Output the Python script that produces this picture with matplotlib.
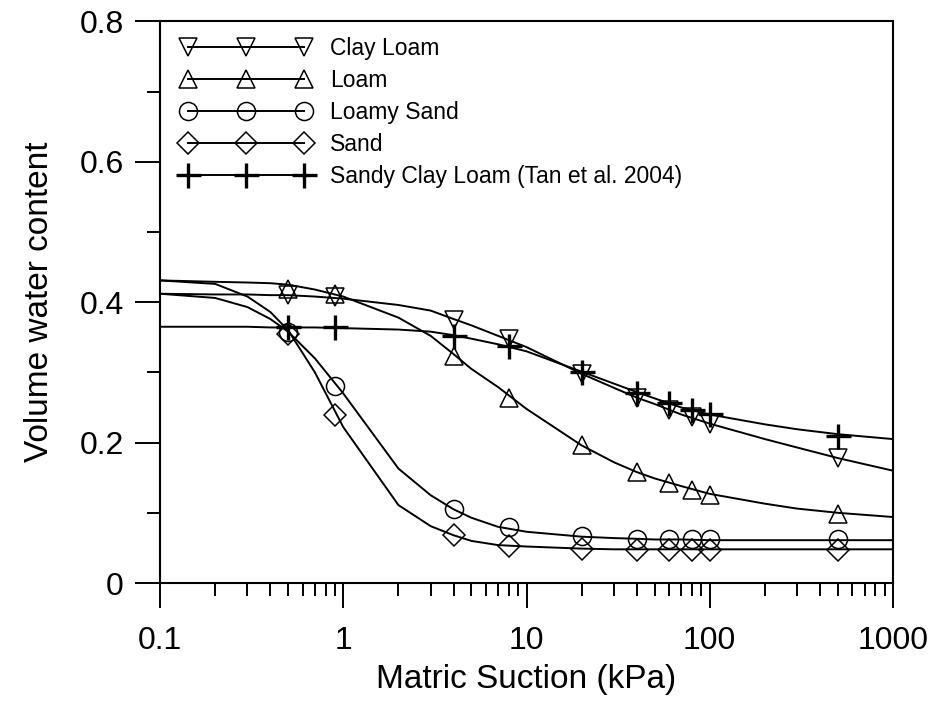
#!/usr/bin/env python3
import matplotlib.pyplot as plt
from matplotlib.ticker import FixedLocator, LogLocator, NullFormatter

plt.rcParams["font.family"] = ["Liberation Sans", "DejaVu Sans"]

# measured points
suction = [0.5, 0.9, 4, 8, 20, 40, 60, 80, 100, 500]
clay_loam = [0.410, 0.407, 0.375, 0.348, 0.298, 0.263, 0.246, 0.236, 0.226, 0.178]
loam = [0.419, 0.411, 0.324, 0.263, 0.196, 0.158, 0.142, 0.132, 0.126, 0.099]
loamy_sand = [0.358, 0.281, 0.105, 0.080, 0.067, 0.0625, 0.0625, 0.0625, 0.0625, 0.0625]
sand = [0.355, 0.239, 0.068, 0.053, 0.048, 0.047, 0.047, 0.047, 0.047, 0.047]
sandy_clay_loam = [0.365, 0.364, 0.352, 0.337, 0.301, 0.270, 0.256, 0.246, 0.241, 0.210]

curve_x = [0.1, 0.2, 0.3, 0.4, 0.5, 0.7, 1, 2, 3, 4, 5, 7, 10,
           20, 30, 40, 50, 70, 100, 200, 300, 500, 1000]
clay_loam_fit = [0.412, 0.411, 0.411, 0.410, 0.410, 0.408, 0.405, 0.396, 0.388, 0.376,
                 0.367, 0.352, 0.336, 0.298, 0.278, 0.264, 0.255, 0.240, 0.227,
                 0.205, 0.193, 0.178, 0.160]
loam_fit = [0.431, 0.429, 0.428, 0.427, 0.425, 0.418, 0.408, 0.378, 0.352, 0.326,
            0.305, 0.279, 0.248, 0.196, 0.172, 0.158, 0.149, 0.138, 0.127,
            0.113, 0.106, 0.100, 0.094]
loamy_sand_fit = [0.412, 0.406, 0.393, 0.376, 0.358, 0.320, 0.270, 0.163, 0.125, 0.105,
                  0.093, 0.080, 0.073, 0.066, 0.064, 0.063, 0.062, 0.062, 0.061,
                  0.061, 0.061, 0.061, 0.061]
sand_fit = [0.431, 0.426, 0.408, 0.386, 0.360, 0.300, 0.222, 0.111, 0.081, 0.068,
            0.060, 0.054, 0.052, 0.049, 0.048, 0.048, 0.048, 0.048, 0.048,
            0.048, 0.048, 0.048, 0.048]
scl_fit = [0.365, 0.365, 0.365, 0.364, 0.364, 0.364, 0.363, 0.361, 0.358, 0.353,
           0.348, 0.340, 0.330, 0.301, 0.284, 0.272, 0.263, 0.250, 0.240,
           0.226, 0.219, 0.212, 0.205]

labels = ["Clay Loam", "Loam", "Loamy Sand", "Sand", "Sandy Clay Loam (Tan et al. 2004)"]
markers = ["v", "^", "o", "D", "+"]


def main():
    fig = plt.figure(figsize=(9.36, 7.11), dpi=100)
    ax = fig.add_axes([0.171, 0.180, 0.783, 0.790])

    points = [clay_loam, loam, loamy_sand, sand, sandy_clay_loam]
    fits = [clay_loam_fit, loam_fit, loamy_sand_fit, sand_fit, scl_fit]
    for pts, fit, lab, mk in zip(points, fits, labels, markers):
        if mk == "+":
            ms, mew = 18, 2.4
        elif mk == "D":
            ms, mew = 11.5, 1.1
        else:
            ms, mew = 13, 1.1
        ax.plot(curve_x, fit, color="black", lw=1.4)
        ax.plot(suction, pts, ls="none", marker=mk, ms=ms, mew=mew,
                mfc="none", mec="black")
        # legend proxy
        ax.plot([], [], color="black", lw=1.4, marker=mk, ms=ms, mew=mew,
                mfc="none", mec="black", label=lab)

    ax.set_xscale("log")
    ax.set_xlim(0.1, 1000)
    ax.set_ylim(0, 0.8)
    ax.xaxis.set_major_locator(FixedLocator([0.1, 1, 10, 100, 1000]))
    ax.set_xticklabels(["0.1", "1", "10", "100", "1000"])
    ax.xaxis.set_minor_locator(LogLocator(base=10, subs=range(2, 10), numticks=20))
    ax.xaxis.set_minor_formatter(NullFormatter())
    ax.set_yticks([0, 0.2, 0.4, 0.6, 0.8])
    ax.set_yticklabels(["0", "0.2", "0.4", "0.6", "0.8"])
    ax.set_yticks([0.1, 0.3, 0.5, 0.7], minor=True)

    ax.tick_params(which="major", direction="out", length=18, width=1.4,
                   labelsize=23, top=False, right=False)
    ax.tick_params(axis="x", which="major", pad=13)
    ax.tick_params(axis="y", which="major", pad=8)
    ax.tick_params(which="minor", direction="out", length=9.5, width=1.4,
                   top=False, right=False)
    for s in ax.spines.values():
        s.set_linewidth(1.5)

    ax.set_xlabel("Matric Suction (kPa)", fontsize=24, labelpad=6)
    ax.set_ylabel("Volume water content", fontsize=24, labelpad=18)

    ax.legend(loc="upper left", bbox_to_anchor=(0.0287, 0.972), frameon=False,
              fontsize=16.5, numpoints=3, handlelength=5.67, handletextpad=0.83,
              labelspacing=0.39, borderpad=0, borderaxespad=0)

    fig.savefig("out.png", dpi=100)


if __name__ == "__main__":
    main()
